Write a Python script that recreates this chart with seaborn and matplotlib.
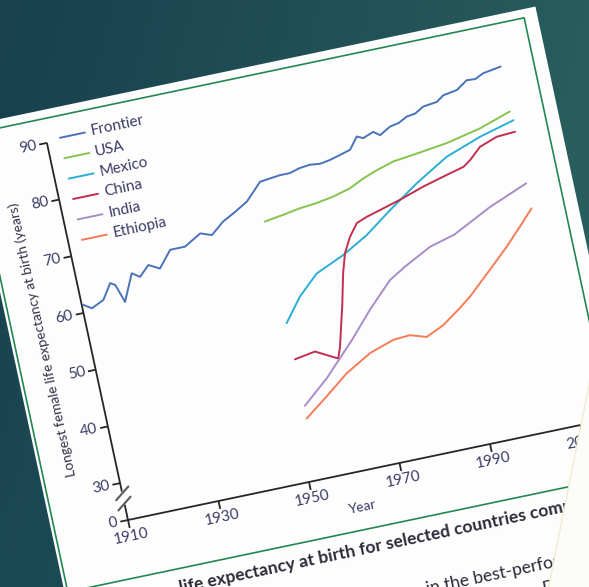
import numpy as np
import pandas as pd
import matplotlib
matplotlib.use("Agg")
import matplotlib.pyplot as plt
import seaborn as sns
from matplotlib.transforms import Affine2D
from matplotlib.patches import Polygon

# ---------------- data ----------------
frontier_years = [1910.3, 1912, 1914.8, 1917, 1918, 1919.3, 1922, 1923.6, 1925.9, 1928.2,
                  1931.2, 1934.5, 1938.3, 1940.7, 1943.7, 1946.2, 1949.6, 1953.3, 1955.6,
                  1957.8, 1960, 1962.3, 1964.6, 1966.8, 1969.1, 1971.5, 1973.8, 1975.8, 1977.1,
                  1979.5, 1980.8, 1983.3, 1985.3, 1987.3, 1989.2, 1991.2, 1994.3, 1996, 1999.1,
                  2001.6, 2003.5, 2005.4, 2009.4]
frontier_le = [61.4, 60.5, 61.5, 64.1, 63.6, 60.4, 65.0, 64.1, 65.8, 64.8,
               67.6, 67.6, 69.3, 68.6, 70.5, 71.5, 73.0, 75.9, 76.1,
               76.3, 76.3, 76.8, 77.0, 76.8, 77.1, 77.6, 78.1, 80.1, 79.6,
               80.3, 79.5, 80.6, 80.9, 81.7, 81.9, 82.8, 83.1, 84.0, 84.4,
               85.7, 85.6, 86.3, 86.8]

usa_years = [1952.5, 1956.7, 1960.5, 1964.3, 1968.1, 1972, 1975.3, 1978.5, 1982.4, 1987.7, 1994.5, 2002.2, 2009.3]
usa_le = [69.0, 69.5, 70.0, 70.3, 70.8, 71.6, 72.8, 73.7, 74.6, 75.1, 75.8, 77.1, 78.9]

mexico_years = [1952.5, 1956.5, 1961.1, 1967.6, 1973.4, 1979.5, 1986.4, 1993.9, 2001.9, 2009.7]
mexico_le = [51.1, 55.1, 58.4, 60.6, 63.1, 66.5, 70.1, 73.5, 75.7, 77.3]

china_years = [1952.6, 1957.2, 1959.5, 1961.8, 1962.7, 1964.4, 1965, 1966.7, 1968, 1969.8,
               1971.9, 1974.3, 1976.6, 1982.1, 1987.6, 1993.9, 1997, 1998.7, 2001.4, 2005.4, 2009.5]
china_le = [44.7, 45.3, 44.3, 43.3, 45.2, 50.2, 51.9, 57.5, 60.8, 63.4,
            65.5, 66.2, 66.7, 67.9, 69.3, 70.6, 71.2, 72.1, 74.0, 75.1, 75.3]

india_years = [1952.6, 1958.5, 1965.5, 1970.7, 1976.3, 1980, 1986.3, 1992, 2000.8, 2009.5]
india_le = [36.5, 40.4, 45.9, 50.4, 54.7, 56.4, 58.9, 60.1, 63.5, 66.2]

ethiopia_years = [1952.4, 1957.6, 1962.9, 1968.8, 1974.3, 1978, 1981.5, 1985.5, 1989.8,
                  1992.5, 1997.9, 2002.5, 2006.2, 2009.5]
ethiopia_le = [34.3, 37.3, 40.5, 43.1, 44.5, 44.7, 43.8, 45.2, 47.5,
               49.1, 52.9, 56.2, 59.1, 61.8]

series_names = ["Frontier", "USA", "Mexico", "China", "India", "Ethiopia"]
series_colors = ["#4a72b8", "#86c34f", "#2aaed4", "#c22e4e", "#a88cc8", "#f47c57"]
x_ticks = [1910, 1930, 1950, 1970, 1990, 2010]
y_ticks = [30, 40, 50, 60, 70, 80, 90]

x_label = "Year"
y_label = "Longest female life expectancy at birth (years)"
caption_1 = "life expectancy at birth for selected countries compared"
caption_2 = "in the best-performing"
caption_3 = "D"

# ---------------- style ----------------
sns.set_theme(style="white")
plt.rcParams['font.family'] = ['Lato', 'DejaVu Sans']

TEXT = "#3c3b66"
AXC = "#262626"
GREEN = "#23874f"
ANG = 11.9

fig = plt.figure(figsize=(5.89, 5.87), dpi=100)

# background (teal gradient), pixel coordinates
bg = fig.add_axes([0, 0, 1, 1])
bg.set_xlim(0, 589); bg.set_ylim(587, 0); bg.axis('off')
yy, xx = np.mgrid[0:1:80j, 0:1:80j]
tl = np.array([24, 64, 78]) / 255
tr = np.array([40, 92, 93]) / 255
bl = np.array([26, 72, 83]) / 255
br = np.array([44, 98, 98]) / 255
img = (tl * ((1 - xx) * (1 - yy))[..., None] + tr * (xx * (1 - yy))[..., None]
       + bl * ((1 - xx) * yy)[..., None] + br * (xx * yy)[..., None])
bg.imshow(img, extent=[0, 589, 587, 0], aspect='auto', interpolation='bilinear')

# chart axes (drawn through a tilted transform)
ax = fig.add_axes([0.2, 0.1, 0.6, 0.6])
ax.axis('off')
M = Affine2D(np.array([[452.5, -81.1, 128.0], [95.0, 377.1, 67.0], [0, 0, 1.0]]))
T = ax.transScale + ax.transLimits + M

# paper sheet and green frame
paper = Polygon([(1893.3, 95.7), (2019.5, 95.7), (2019.5, -45), (1893.3, -45)],
                closed=True, facecolor="#fdfdfd", edgecolor="none", transform=T,
                clip_on=False, zorder=0)
ax.add_patch(paper)
ax.plot([1894, 2016.6, 2016.6, 1894, 1894], [94.2, 94.2, 13.5, 13.5, 94.2],
        color=GREEN, lw=1.2, transform=T, clip_on=False, zorder=1)

# data lines
frames = []
for name, yrs, vals in zip(series_names,
                           [frontier_years, usa_years, mexico_years, china_years, india_years, ethiopia_years],
                           [frontier_le, usa_le, mexico_le, china_le, india_le, ethiopia_le]):
    frames.append(pd.DataFrame({"series": name, "year": yrs, "le": vals}))
df = pd.concat(frames, ignore_index=True)

sns.lineplot(data=df, x="year", y="le", hue="series", hue_order=series_names,
             palette=dict(zip(series_names, series_colors)), ax=ax, legend=False,
             linewidth=1.4, errorbar=None)
ax.set_xlim(1910, 2010)
ax.set_ylim(23.5, 90)
ax.axis('off')
for ln in ax.lines:
    if ln.get_color() != GREEN:
        ln.set_transform(T)
        ln.set_clip_on(False)
        ln.set_zorder(3)

# axes lines with break
kw = dict(color=AXC, lw=1.3, transform=T, clip_on=False, zorder=2, solid_capstyle='butt')
ax.plot([1910, 1910], [90, 28.5], **kw)
ax.plot([1910, 1910], [26.2, 23.5], **kw)
ax.plot([1910, 2010], [23.5, 23.5], **kw)
for c in (28.2, 26.4):
    ax.plot([1908.4, 1911.6], [c - 0.95, c + 0.95], color="#5a5a5a", lw=1.5,
            transform=T, clip_on=False, zorder=2)

# y ticks
for v in y_ticks:
    ax.plot([1910, 1908.3], [v, v], **kw)
    ax.text(1907.7, v, str(v), ha='right', va='center', rotation=ANG, rotation_mode='anchor',
            transform=T, fontsize=11, color=TEXT)
ax.plot([1910, 1908.3], [23.5, 23.5], **kw)
ax.text(1907.7, 23.5, "0", ha='right', va='center', rotation=ANG, rotation_mode='anchor',
        transform=T, fontsize=11, color=TEXT)

# x ticks
for yr in x_ticks:
    ax.plot([yr, yr], [23.5, 22.1], **kw)
    ax.text(yr, 21.8, str(yr), ha='center', va='top', rotation=ANG, rotation_mode='anchor',
            transform=T, fontsize=11, color=TEXT)

ax.text(1960, 17.4, x_label, ha='center', va='center', rotation=ANG, rotation_mode='anchor',
        transform=T, fontsize=10, color=TEXT)
ax.text(1900.2, 57.0, y_label, ha='center', va='center', rotation=90 + ANG + 0.2,
        rotation_mode='anchor', transform=T, fontsize=10, color="#33334a")

# legend
for i, (name, col) in enumerate(zip(series_names, series_colors)):
    v = 90.4 - 3.6 * i
    ax.plot([1913, 1918.5], [v, v], color=col, lw=1.4, transform=T, clip_on=False, zorder=3)
    ax.text(1919.8, v, name, ha='left', va='center', rotation=ANG, rotation_mode='anchor',
            transform=T, fontsize=11, color=TEXT)

# caption text below the frame
ax.text(1917.7, 9.3, caption_1, ha='left', va='baseline', rotation=ANG, rotation_mode='anchor',
        transform=T, fontsize=12.6, fontweight='bold', color="#2a2a38")
ax.text(1970, 0.4, caption_2, ha='left', va='baseline', rotation=ANG, rotation_mode='anchor',
        transform=T, fontsize=12.6, color="#2a2a38")
ax.text(1994.4, -3.7, caption_3, ha='left', va='baseline', rotation=ANG, rotation_mode='anchor',
        transform=T, fontsize=12.6, color="#2a2a38")

# overlapping sheet at lower right (pixel coordinates)
ov = fig.add_axes([0, 0, 1, 1])
ov.set_xlim(0, 589); ov.set_ylim(587, 0); ov.axis('off')
ov.add_patch(Polygon([(590, 380), (600, 380), (600, 600), (546, 600)], closed=True,
                     facecolor="#fcfcfa", edgecolor="none"))
ov.plot([590, 546], [380, 600], color="#f1e8c6", lw=1.0, alpha=0.8)

fig.savefig("out.png", dpi=100)
